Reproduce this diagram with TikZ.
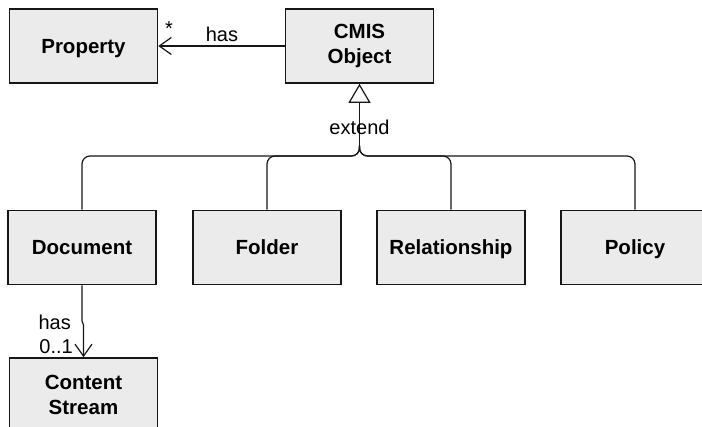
\documentclass[tikz,border=0pt]{standalone}
\usepackage{fontspec}
\setmainfont{Liberation Sans}
\usetikzlibrary{arrows.meta}
\definecolor{boxfill}{HTML}{EBEBEB}
\definecolor{ink}{HTML}{161616}
\begin{document}
\begin{tikzpicture}[x=1pt,y=-1pt,
  classbox/.style={draw=ink,line width=1.6pt,fill=boxfill,minimum width=148pt,minimum height=74pt,
    inner sep=0pt,align=center,font=\fontsize{20.5}{25.5}\selectfont\bfseries},
  oneline/.style={text height=14.7pt,text depth=0pt},
  link/.style={draw=ink,line width=1.2pt},
  lbl/.style={font=\fontsize{20}{23}\selectfont,inner sep=0pt},
  navarrow/.style={-{Straight Barb[length=12pt,width=17pt,line width=1.2pt]}},
  genarrow/.style={-{Triangle[open,length=19pt,width=22pt,line width=1.2pt,fill=white]}}]
\useasboundingbox (0,0) rectangle (702,427);
\clip (0,0) rectangle (702,427);

% classes
\node[classbox,oneline] (prop) at (83.5,46) {Property};
\node[classbox] (cmis) at (359.5,46) {CMIS\\Object};
\node[classbox,oneline] (doc)  at (82,247.5) {Document};
\node[classbox,oneline] (fold) at (267,247.5) {Folder};
\node[classbox,oneline] (rel)  at (451,247.5) {Relationship};
\node[classbox,oneline] (pol)  at (635,247.5) {Policy};
\node[classbox] (cs)   at (83.5,395) {Content\\Stream};

% association: object has properties
\draw[link,navarrow] (cmis.west) -- (prop.east);
\node[lbl] (star) at (169,29) {*};
\node[lbl] (hasp) at (222,34) {has};

% generalization tree
\coordinate (stem) at (359.5,146);
\draw[link,genarrow] (stem) -- (cmis.south);
\draw[link,rounded corners=8pt] (doc.north)  |- (359.5,156) -- (stem);
\draw[link,rounded corners=8pt] (fold.north) |- (359.5,156) -- (stem);
\draw[link,rounded corners=8pt] (rel.north)  |- (359.5,156) -- (stem);
\draw[link,rounded corners=8pt] (pol.north)  |- (359.5,156) -- (stem);
\node[lbl] (ext) at (359.5,127) {extend};

% association: document has content stream
\coordinate (jog) at (82,321);
\draw[link,navarrow] (doc.south) -- (jog) -- (83.5,325) -- (cs.north);
\node[lbl,anchor=east] (hasc) at (71,322) {has};
\node[lbl,anchor=east] (mult) at (73,347) {0..1};
\end{tikzpicture}
\end{document}
